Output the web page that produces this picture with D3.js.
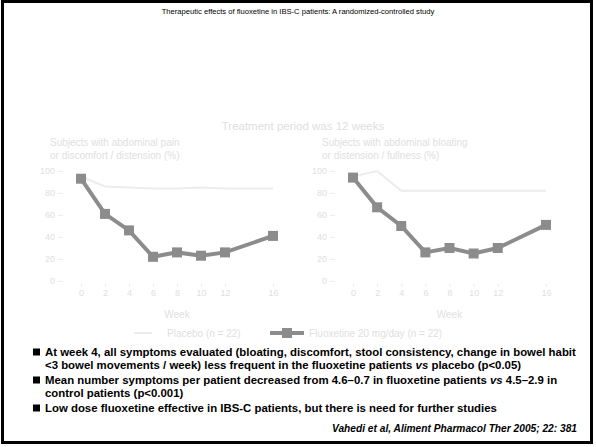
<!DOCTYPE html>
<html>
<head>
<meta charset="utf-8">
<script src="https://cdn.jsdelivr.net/npm/d3@7"></script>
<style>
  html, body { margin: 0; padding: 0; background: #fff; }
  svg { display: block; font-family: Arial, "Liberation Sans", sans-serif; }
</style>
</head>
<body>
<script>
// Weeks of measurement (12-week treatment, follow-up at week 16)
const weeks = [0, 2, 4, 6, 8, 10, 12, 16];
const yTicks = [0, 20, 40, 60, 80, 100];

// Left panel: subjects with abdominal pain / discomfort (%)
const painFluoxetine = [93, 61, 46, 22, 26, 23, 26, 41];
const painPlacebo = [95, 86, 85, 84, 84, 85, 84, 84];

// Right panel: subjects with abdominal bloating (%)
const bloatFluoxetine = [94, 67, 50, 26, 30, 25, 30, 51];
const bloatPlacebo = [95, 100, 82, 82, 82, 82, 82, 82];

const seriesNames = ["Placebo (n = 22)", "Fluoxetine 20 mg/day (n = 22)"];
const panelTitles = [
  ["Subjects with abdominal pain", "or discomfort / distension (%)"],
  ["Subjects with abdominal bloating", "or distension / fullness (%)"]
];

const titleText = "Therapeutic effects of fluoxetine in IBS-C patients: A randomized-controlled study";
const periodText = "Treatment period was 12 weeks";
const citation = "Vahedi et al, Aliment Pharmacol Ther 2005; 22: 381";

// bullet lines: [text, italic] runs
const bulletLines = [
  { bullet: true, parts: [["At week 4, all symptoms evaluated (bloating, discomfort, stool consistency, change in bowel habit", false]] },
  { bullet: false, parts: [["<3 bowel movements / week) less frequent in the fluoxetine patients ", false], ["vs", true], [" placebo (p<0.05)", false]] },
  { bullet: true, parts: [["Mean number symptoms per patient decreased from 4.6\u20130.7 in fluoxetine patients ", false], ["vs", true], [" 4.5\u20132.9 in", false]] },
  { bullet: false, parts: [["control patients (p<0.001)", false]] },
  { bullet: true, parts: [["Low dose fluoxetine effective in IBS-C patients, but there is need for further studies", false]] }
];
const bulletY = [356, 369, 384, 397, 412];

const W = 596, H = 447;
const faint = "#e0e0e0";
const faintLine = "#ececec";
const dark = "#8c8c8c";

const svg = d3.select("body").append("svg").attr("width", W).attr("height", H);

// slide frame
svg.append("rect").attr("x", 2.5).attr("y", 1.5).attr("width", 589).attr("height", 441)
  .attr("fill", "none").attr("stroke", "#000").attr("stroke-width", 3);

svg.append("text").attr("x", 298).attr("y", 14).attr("text-anchor", "middle")
  .attr("font-size", 7.6).attr("fill", "#000").text(titleText);

svg.append("text").attr("x", 303).attr("y", 130).attr("text-anchor", "middle")
  .attr("font-size", 11.5).attr("fill", faint).text(periodText);

function panel(x0, x1, fluox, placebo, titles, tx) {
  const x = d3.scaleLinear().domain([0, 16]).range([x0, x1]);
  const y = d3.scaleLinear().domain([0, 100]).range([281, 171]);
  const g = svg.append("g");

  const yAxis = g.append("g").attr("transform", `translate(${x0 - 18},0)`)
    .call(d3.axisLeft(y).tickValues(yTicks).tickSize(5).tickPadding(3));
  yAxis.select(".domain").remove();
  yAxis.selectAll("line").attr("stroke", faintLine);
  yAxis.selectAll("text").attr("fill", faint).attr("font-size", 9);

  const xAxis = g.append("g").attr("transform", "translate(0,284)")
    .call(d3.axisBottom(x).tickValues(weeks).tickSize(3).tickPadding(3));
  xAxis.select(".domain").remove();
  xAxis.selectAll("line").attr("stroke", faintLine);
  xAxis.selectAll("text").attr("fill", faint).attr("font-size", 9);

  g.append("text").attr("x", (x0 + x1) / 2).attr("y", 318).attr("text-anchor", "middle")
    .attr("font-size", 10).attr("fill", faint).text("Week");

  titles.forEach((t, i) => {
    g.append("text").attr("x", tx).attr("y", 146 + i * 12.5)
      .attr("font-size", 10).attr("fill", faint).text(t);
  });

  const line = d3.line().x((d, i) => x(weeks[i])).y(d => y(d));

  g.append("path").datum(placebo).attr("d", line).attr("fill", "none")
    .attr("stroke", faintLine).attr("stroke-width", 2);

  g.append("path").datum(fluox).attr("d", line).attr("fill", "none")
    .attr("stroke", dark).attr("stroke-width", 4);
  g.selectAll("rect.m").data(fluox).join("rect").attr("class", "m")
    .attr("x", (d, i) => x(weeks[i]) - 5).attr("y", d => y(d) - 5)
    .attr("width", 10).attr("height", 10).attr("fill", dark);
}

panel(81, 273, painFluoxetine, painPlacebo, panelTitles[0], 50);
panel(353, 546, bloatFluoxetine, bloatPlacebo, panelTitles[1], 322);

// legend
const lg = svg.append("g");
lg.append("line").attr("x1", 134).attr("x2", 152).attr("y1", 333).attr("y2", 333)
  .attr("stroke", faintLine).attr("stroke-width", 2);
lg.append("text").attr("x", 167).attr("y", 337).attr("font-size", 10).attr("fill", faint).text(seriesNames[0]);
lg.append("line").attr("x1", 270).attr("x2", 304).attr("y1", 333).attr("y2", 333)
  .attr("stroke", dark).attr("stroke-width", 4);
lg.append("rect").attr("x", 282).attr("y", 328).attr("width", 10).attr("height", 10).attr("fill", dark);
lg.append("text").attr("x", 309).attr("y", 337).attr("font-size", 10).attr("fill", faint).text(seriesNames[1]);

// bullet points
const bx = 45, fs = 11.4;
bulletLines.forEach((l, i) => {
  const yy = bulletY[i];
  if (l.bullet) {
    svg.append("rect").attr("x", 33).attr("y", yy - 7.5).attr("width", 7).attr("height", 7).attr("fill", "#000");
  }
  const t = svg.append("text").attr("x", bx).attr("y", yy).attr("font-size", fs)
    .attr("font-weight", "bold").attr("fill", "#000");
  l.parts.forEach(p => {
    t.append("tspan").attr("font-style", p[1] ? "italic" : "normal").text(p[0]);
  });
});

svg.append("text").attr("x", 577).attr("y", 432).attr("text-anchor", "end")
  .attr("font-size", 10.2).attr("font-weight", "bold").attr("font-style", "italic")
  .attr("fill", "#000").text(citation);
</script>
</body>
</html>
